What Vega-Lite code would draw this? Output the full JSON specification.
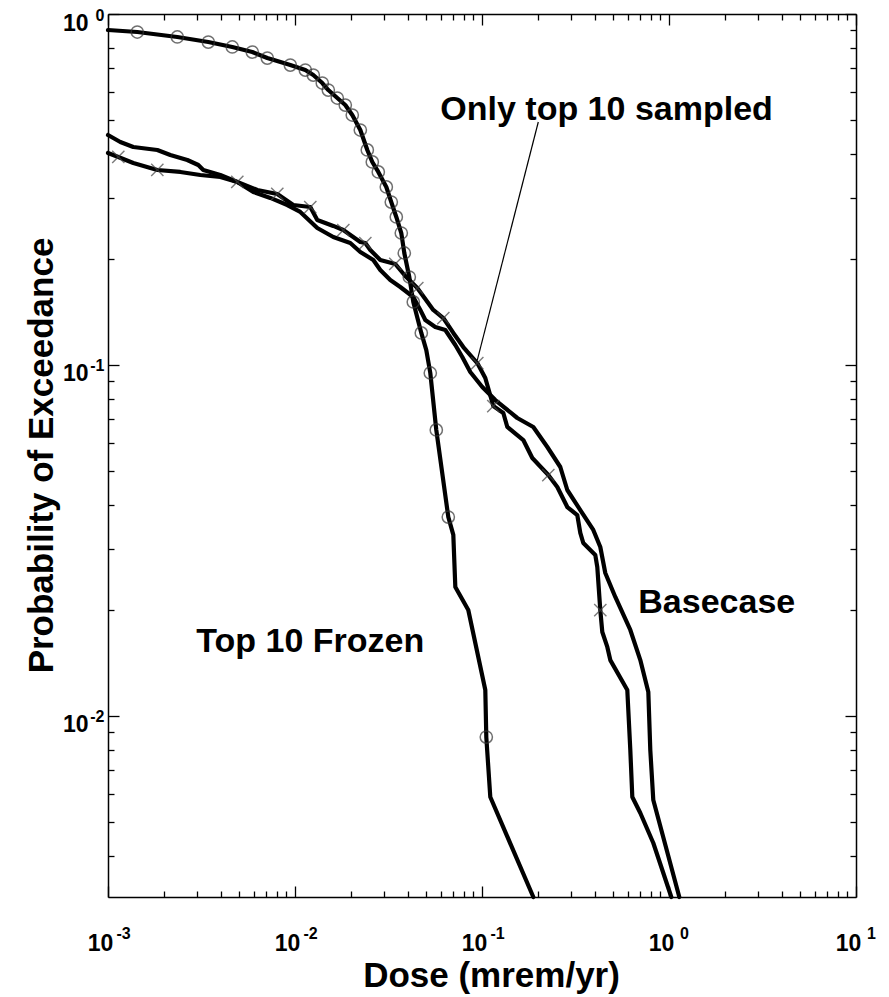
{
  "$schema": "https://vega.github.io/schema/vega-lite/v6.json",
  "width": 748,
  "height": 883,
  "autosize": {"type": "none"},
  "padding": {"left": 108, "top": 14, "right": 33, "bottom": 100},
  "background": "white",
  "config": {
    "view": {"stroke": null},
    "axis": {
      "grid": false,
      "labelFont": "Liberation Sans",
      "titleFont": "Liberation Sans",
      "labelFontWeight": "bold",
      "titleFontWeight": "bold",
      "domainColor": "black",
      "tickColor": "black",
      "labelColor": "black",
      "titleColor": "black",
      "labelFlush": false,
      "labelOverlap": false,
      "domainWidth": 1.5,
      "tickWidth": 1.3
    }
  },
  "datasets": {
    "curves": [
      {"series": "Top 10 Frozen", "x": 0.001, "y": 0.9003, "mk": false},
      {"series": "Top 10 Frozen", "x": 0.0014343, "y": 0.8886, "mk": true},
      {"series": "Top 10 Frozen", "x": 0.0023482, "y": 0.86, "mk": true},
      {"series": "Top 10 Frozen", "x": 0.0034388, "y": 0.832, "mk": true},
      {"series": "Top 10 Frozen", "x": 0.0046208, "y": 0.8054, "mk": true},
      {"series": "Top 10 Frozen", "x": 0.0059108, "y": 0.7792, "mk": true},
      {"series": "Top 10 Frozen", "x": 0.0071106, "y": 0.7492, "mk": true},
      {"series": "Top 10 Frozen", "x": 0.0094386, "y": 0.7155, "mk": true},
      {"series": "Top 10 Frozen", "x": 0.011353, "y": 0.6924, "mk": true},
      {"series": "Top 10 Frozen", "x": 0.012527, "y": 0.67, "mk": true},
      {"series": "Top 10 Frozen", "x": 0.013995, "y": 0.6359, "mk": true},
      {"series": "Top 10 Frozen", "x": 0.015071, "y": 0.6073, "mk": true},
      {"series": "Top 10 Frozen", "x": 0.016834, "y": 0.5763, "mk": true},
      {"series": "Top 10 Frozen", "x": 0.018576, "y": 0.5504, "mk": true},
      {"series": "Top 10 Frozen", "x": 0.020245, "y": 0.5155, "mk": true},
      {"series": "Top 10 Frozen", "x": 0.022352, "y": 0.4672, "mk": true},
      {"series": "Top 10 Frozen", "x": 0.02436, "y": 0.4098, "mk": true},
      {"series": "Top 10 Frozen", "x": 0.025906, "y": 0.3788, "mk": true},
      {"series": "Top 10 Frozen", "x": 0.027889, "y": 0.3548, "mk": true},
      {"series": "Top 10 Frozen", "x": 0.030781, "y": 0.3215, "mk": true},
      {"series": "Top 10 Frozen", "x": 0.03273, "y": 0.2912, "mk": true},
      {"series": "Top 10 Frozen", "x": 0.03481, "y": 0.2641, "mk": true},
      {"series": "Top 10 Frozen", "x": 0.037018, "y": 0.2377, "mk": true},
      {"series": "Top 10 Frozen", "x": 0.038411, "y": 0.2085, "mk": true},
      {"series": "Top 10 Frozen", "x": 0.040857, "y": 0.1781, "mk": true},
      {"series": "Top 10 Frozen", "x": 0.042915, "y": 0.1512, "mk": true},
      {"series": "Top 10 Frozen", "x": 0.047359, "y": 0.1234, "mk": true},
      {"series": "Top 10 Frozen", "x": 0.050365, "y": 0.1103, "mk": false},
      {"series": "Top 10 Frozen", "x": 0.052907, "y": 0.09489, "mk": true},
      {"series": "Top 10 Frozen", "x": 0.05696, "y": 0.06529, "mk": true},
      {"series": "Top 10 Frozen", "x": 0.066043, "y": 0.03688, "mk": true},
      {"series": "Top 10 Frozen", "x": 0.070245, "y": 0.0328, "mk": false},
      {"series": "Top 10 Frozen", "x": 0.071995, "y": 0.02331, "mk": false},
      {"series": "Top 10 Frozen", "x": 0.084464, "y": 0.02004, "mk": false},
      {"series": "Top 10 Frozen", "x": 0.10415, "y": 0.01186, "mk": false},
      {"series": "Top 10 Frozen", "x": 0.10544, "y": 0.008711, "mk": true},
      {"series": "Top 10 Frozen", "x": 0.11076, "y": 0.005877, "mk": false},
      {"series": "Top 10 Frozen", "x": 0.18809, "y": 0.00305, "mk": false},

      {"series": "Only top 10 sampled", "x": 0.001, "y": 0.4018, "mk": false},
      {"series": "Only top 10 sampled", "x": 0.0011352, "y": 0.3914, "mk": true},
      {"series": "Only top 10 sampled", "x": 0.0013653, "y": 0.3763, "mk": false},
      {"series": "Only top 10 sampled", "x": 0.0018354, "y": 0.3594, "mk": true},
      {"series": "Only top 10 sampled", "x": 0.0024364, "y": 0.3548, "mk": false},
      {"series": "Only top 10 sampled", "x": 0.0031158, "y": 0.3478, "mk": false},
      {"series": "Only top 10 sampled", "x": 0.0039859, "y": 0.3433, "mk": false},
      {"series": "Only top 10 sampled", "x": 0.004914, "y": 0.3322, "mk": true},
      {"series": "Only top 10 sampled", "x": 0.0062866, "y": 0.3153, "mk": false},
      {"series": "Only top 10 sampled", "x": 0.0080416, "y": 0.3071, "mk": true},
      {"series": "Only top 10 sampled", "x": 0.009793, "y": 0.2856, "mk": false},
      {"series": "Only top 10 sampled", "x": 0.012072, "y": 0.2819, "mk": true},
      {"series": "Only top 10 sampled", "x": 0.013157, "y": 0.259, "mk": false},
      {"series": "Only top 10 sampled", "x": 0.016025, "y": 0.249, "mk": false},
      {"series": "Only top 10 sampled", "x": 0.018124, "y": 0.2424, "mk": true},
      {"series": "Only top 10 sampled", "x": 0.022352, "y": 0.2241, "mk": false},
      {"series": "Only top 10 sampled", "x": 0.023768, "y": 0.2226, "mk": true},
      {"series": "Only top 10 sampled", "x": 0.025275, "y": 0.2126, "mk": false},
      {"series": "Only top 10 sampled", "x": 0.028584, "y": 0.1991, "mk": false},
      {"series": "Only top 10 sampled", "x": 0.034384, "y": 0.194, "mk": true},
      {"series": "Only top 10 sampled", "x": 0.038887, "y": 0.1793, "mk": false},
      {"series": "Only top 10 sampled", "x": 0.045083, "y": 0.1657, "mk": true},
      {"series": "Only top 10 sampled", "x": 0.054897, "y": 0.1435, "mk": false},
      {"series": "Only top 10 sampled", "x": 0.062105, "y": 0.1361, "mk": true},
      {"series": "Only top 10 sampled", "x": 0.070245, "y": 0.1234, "mk": false},
      {"series": "Only top 10 sampled", "x": 0.079433, "y": 0.1125, "mk": false},
      {"series": "Only top 10 sampled", "x": 0.094371, "y": 0.1013, "mk": true},
      {"series": "Only top 10 sampled", "x": 0.10415, "y": 0.09184, "mk": false},
      {"series": "Only top 10 sampled", "x": 0.11493, "y": 0.07641, "mk": true},
      {"series": "Only top 10 sampled", "x": 0.13002, "y": 0.07297, "mk": false},
      {"series": "Only top 10 sampled", "x": 0.13656, "y": 0.06659, "mk": false},
      {"series": "Only top 10 sampled", "x": 0.16631, "y": 0.06113, "mk": false},
      {"series": "Only top 10 sampled", "x": 0.18579, "y": 0.05431, "mk": false},
      {"series": "Only top 10 sampled", "x": 0.22629, "y": 0.04859, "mk": true},
      {"series": "Only top 10 sampled", "x": 0.25275, "y": 0.04492, "mk": false},
      {"series": "Only top 10 sampled", "x": 0.28584, "y": 0.03938, "mk": false},
      {"series": "Only top 10 sampled", "x": 0.3233, "y": 0.03737, "mk": false},
      {"series": "Only top 10 sampled", "x": 0.33546, "y": 0.03323, "mk": false},
      {"series": "Only top 10 sampled", "x": 0.3481, "y": 0.03111, "mk": false},
      {"series": "Only top 10 sampled", "x": 0.40352, "y": 0.02875, "mk": false},
      {"series": "Only top 10 sampled", "x": 0.41358, "y": 0.02657, "mk": false},
      {"series": "Only top 10 sampled", "x": 0.42915, "y": 0.02004, "mk": true},
      {"series": "Only top 10 sampled", "x": 0.43984, "y": 0.01735, "mk": false},
      {"series": "Only top 10 sampled", "x": 0.46779, "y": 0.01573, "mk": false},
      {"series": "Only top 10 sampled", "x": 0.4854, "y": 0.01443, "mk": false},
      {"series": "Only top 10 sampled", "x": 0.59841, "y": 0.01186, "mk": false},
      {"series": "Only top 10 sampled", "x": 0.62105, "y": 0.007997, "mk": false},
      {"series": "Only top 10 sampled", "x": 0.63652, "y": 0.005877, "mk": false},
      {"series": "Only top 10 sampled", "x": 0.70245, "y": 0.005292, "mk": false},
      {"series": "Only top 10 sampled", "x": 0.8242, "y": 0.004346, "mk": false},
      {"series": "Only top 10 sampled", "x": 1.0287, "y": 0.00305, "mk": false},

      {"series": "Basecase", "x": 0.001, "y": 0.4521, "mk": false},
      {"series": "Basecase", "x": 0.0011636, "y": 0.4318, "mk": false},
      {"series": "Basecase", "x": 0.0013653, "y": 0.4179, "mk": false},
      {"series": "Basecase", "x": 0.0018354, "y": 0.4098, "mk": false},
      {"series": "Basecase", "x": 0.0021539, "y": 0.3966, "mk": false},
      {"series": "Basecase", "x": 0.0026553, "y": 0.3838, "mk": false},
      {"series": "Basecase", "x": 0.0030401, "y": 0.3713, "mk": false},
      {"series": "Basecase", "x": 0.003233, "y": 0.3594, "mk": false},
      {"series": "Basecase", "x": 0.0039859, "y": 0.3478, "mk": false},
      {"series": "Basecase", "x": 0.004914, "y": 0.3322, "mk": false},
      {"series": "Basecase", "x": 0.0059841, "y": 0.3112, "mk": false},
      {"series": "Basecase", "x": 0.0073781, "y": 0.2992, "mk": false},
      {"series": "Basecase", "x": 0.0090966, "y": 0.2856, "mk": false},
      {"series": "Basecase", "x": 0.010674, "y": 0.2729, "mk": false},
      {"series": "Basecase", "x": 0.013157, "y": 0.2457, "mk": false},
      {"series": "Basecase", "x": 0.016025, "y": 0.2315, "mk": false},
      {"series": "Basecase", "x": 0.019752, "y": 0.2226, "mk": false},
      {"series": "Basecase", "x": 0.022352, "y": 0.2099, "mk": false},
      {"series": "Basecase", "x": 0.026227, "y": 0.1991, "mk": false},
      {"series": "Basecase", "x": 0.028584, "y": 0.1865, "mk": false},
      {"series": "Basecase", "x": 0.03233, "y": 0.1746, "mk": false},
      {"series": "Basecase", "x": 0.036565, "y": 0.1668, "mk": false},
      {"series": "Basecase", "x": 0.042915, "y": 0.1562, "mk": false},
      {"series": "Basecase", "x": 0.046779, "y": 0.1435, "mk": false},
      {"series": "Basecase", "x": 0.049749, "y": 0.1343, "mk": false},
      {"series": "Basecase", "x": 0.056264, "y": 0.1283, "mk": false},
      {"series": "Basecase", "x": 0.063652, "y": 0.1258, "mk": false},
      {"series": "Basecase", "x": 0.071995, "y": 0.114, "mk": false},
      {"series": "Basecase", "x": 0.078464, "y": 0.1054, "mk": false},
      {"series": "Basecase", "x": 0.086569, "y": 0.09551, "mk": false},
      {"series": "Basecase", "x": 0.10037, "y": 0.08659, "mk": false},
      {"series": "Basecase", "x": 0.11779, "y": 0.07948, "mk": false},
      {"series": "Basecase", "x": 0.15443, "y": 0.07063, "mk": false},
      {"series": "Basecase", "x": 0.18809, "y": 0.06659, "mk": false},
      {"series": "Basecase", "x": 0.22352, "y": 0.05839, "mk": false},
      {"series": "Basecase", "x": 0.26227, "y": 0.05121, "mk": false},
      {"series": "Basecase", "x": 0.28584, "y": 0.04404, "mk": false},
      {"series": "Basecase", "x": 0.33546, "y": 0.03862, "mk": false},
      {"series": "Basecase", "x": 0.39371, "y": 0.03389, "mk": false},
      {"series": "Basecase", "x": 0.42915, "y": 0.0303, "mk": false},
      {"series": "Basecase", "x": 0.45636, "y": 0.02555, "mk": false},
      {"series": "Basecase", "x": 0.51617, "y": 0.02183, "mk": false},
      {"series": "Basecase", "x": 0.62105, "y": 0.01758, "mk": false},
      {"series": "Basecase", "x": 0.70245, "y": 0.01443, "mk": false},
      {"series": "Basecase", "x": 0.77518, "y": 0.01171, "mk": false},
      {"series": "Basecase", "x": 0.79433, "y": 0.007997, "mk": false},
      {"series": "Basecase", "x": 0.8242, "y": 0.005762, "mk": false},
      {"series": "Basecase", "x": 1.1352, "y": 0.00305, "mk": false}
    ],
    "notes": [
      {"label": "Only top 10 sampled", "x": 0.059837, "y": 0.4989},
      {"label": "Basecase", "x": 0.6852, "y": 0.01965},
      {"label": "Top 10 Frozen", "x": 0.0029665, "y": 0.01522}
    ],
    "pointer": [
      {"x": 0.2, "y": 0.4924},
      {"x": 0.094371, "y": 0.1033}
    ]
  },
  "resolve": {"axis": {"x": "independent", "y": "independent"}},
  "layer": [
    {
      "data": {"name": "curves"},
      "mark": {"type": "line", "color": "black", "strokeWidth": 4.2, "strokeJoin": "round", "strokeCap": "round"},
      "encoding": {
        "x": {
          "field": "x", "type": "quantitative",
          "scale": {"type": "log", "domain": [0.001, 10], "nice": false},
          "axis": {
            "orient": "bottom", "values": [0.001, 0.01, 0.1, 1, 10],
            "labelExpr": "'10'", "labelFontSize": 23, "labelBaseline": "top",
            "labelPadding": 46, "labelOffset": -8, "tickSize": -11,
            "title": "Dose (mrem/yr)", "titleFontSize": 35,
            "titleX": 383, "titleY": 89, "titleBaseline": "alphabetic", "titleAlign": "center"
          }
        },
        "y": {
          "field": "y", "type": "quantitative",
          "scale": {"type": "log", "domain": [0.00305, 1], "nice": false},
          "axis": {
            "orient": "left", "values": [0.01, 0.1, 1],
            "labelExpr": "'10'", "labelFontSize": 23, "labelAlign": "right", "labelBaseline": "middle",
            "labelPadding": 31, "labelOffset": 9, "tickSize": -11,
            "title": "Probability of Exceedance", "titleFontSize": 35,
            "titleX": -56, "titleY": 441, "titleAngle": -90, "titleBaseline": "alphabetic", "titleAlign": "center"
          }
        },
        "detail": {"field": "series"}
      }
    },
    {
      "data": {"name": "curves"},
      "transform": [{"filter": "datum.mk && datum.series === 'Top 10 Frozen'"}],
      "mark": {"type": "point", "shape": "circle", "filled": false, "stroke": "#333333", "strokeWidth": 1.5, "size": 150},
      "encoding": {
        "x": {
          "field": "x", "type": "quantitative",
          "scale": {"type": "log", "domain": [0.001, 10], "nice": false},
          "axis": {
            "orient": "bottom", "values": [0.001, 0.01, 0.1, 1, 10],
            "labelExpr": "'' + round(log(datum.value) / LN10)", "labelFontSize": 16, "labelBaseline": "top",
            "labelPadding": 28, "labelOffset": 15, "ticks": false, "domain": false, "title": null
          }
        },
        "y": {
          "field": "y", "type": "quantitative",
          "scale": {"type": "log", "domain": [0.00305, 1], "nice": false},
          "axis": {
            "orient": "left", "values": [0.01, 0.1, 1],
            "labelExpr": "'' + round(log(datum.value) / LN10)", "labelFontSize": 16, "labelAlign": "right", "labelBaseline": "middle",
            "labelPadding": 4, "labelOffset": 1, "ticks": false, "domain": false, "title": null
          }
        }
      }
    },
    {
      "data": {"name": "curves"},
      "transform": [{"filter": "datum.mk && datum.series === 'Only top 10 sampled'"}],
      "mark": {"type": "point", "shape": "M-1,-1L1,1M-1,1L1,-1", "filled": false, "stroke": "#444444", "strokeWidth": 1.4, "size": 150},
      "encoding": {
        "x": {
          "field": "x", "type": "quantitative",
          "scale": {"type": "log", "domain": [0.001, 10], "nice": false},
          "axis": {
            "orient": "bottom",
            "values": [0.002, 0.003, 0.004, 0.005, 0.006, 0.007, 0.008, 0.009, 0.02, 0.03, 0.04, 0.05, 0.06, 0.07, 0.08, 0.09, 0.2, 0.3, 0.4, 0.5, 0.6, 0.7, 0.8, 0.9, 2, 3, 4, 5, 6, 7, 8, 9],
            "labels": false, "tickSize": -6, "domain": false, "title": null
          }
        },
        "y": {
          "field": "y", "type": "quantitative",
          "scale": {"type": "log", "domain": [0.00305, 1], "nice": false},
          "axis": {
            "orient": "left",
            "values": [0.004, 0.005, 0.006, 0.007, 0.008, 0.009, 0.02, 0.03, 0.04, 0.05, 0.06, 0.07, 0.08, 0.09, 0.2, 0.3, 0.4, 0.5, 0.6, 0.7, 0.8, 0.9],
            "labels": false, "tickSize": -6, "domain": false, "title": null
          }
        }
      }
    },
    {
      "data": {"name": "notes"},
      "mark": {"type": "text", "align": "left", "baseline": "alphabetic", "font": "Liberation Sans", "fontWeight": "bold", "fontSize": 34, "color": "black"},
      "encoding": {
        "x": {
          "field": "x", "type": "quantitative",
          "scale": {"type": "log", "domain": [0.001, 10], "nice": false},
          "axis": {
            "orient": "top", "values": [0.001, 0.01, 0.1, 1, 10],
            "labels": false, "tickSize": -11, "title": null
          }
        },
        "y": {
          "field": "y", "type": "quantitative",
          "scale": {"type": "log", "domain": [0.00305, 1], "nice": false},
          "axis": {
            "orient": "right", "values": [0.01, 0.1, 1],
            "labels": false, "tickSize": -11, "title": null
          }
        },
        "text": {"field": "label"}
      }
    },
    {
      "data": {"name": "pointer"},
      "mark": {"type": "line", "color": "black", "strokeWidth": 1.2},
      "encoding": {
        "x": {
          "field": "x", "type": "quantitative",
          "scale": {"type": "log", "domain": [0.001, 10], "nice": false},
          "axis": {
            "orient": "top",
            "values": [0.002, 0.003, 0.004, 0.005, 0.006, 0.007, 0.008, 0.009, 0.02, 0.03, 0.04, 0.05, 0.06, 0.07, 0.08, 0.09, 0.2, 0.3, 0.4, 0.5, 0.6, 0.7, 0.8, 0.9, 2, 3, 4, 5, 6, 7, 8, 9],
            "labels": false, "tickSize": -6, "domain": false, "title": null
          }
        },
        "y": {
          "field": "y", "type": "quantitative",
          "scale": {"type": "log", "domain": [0.00305, 1], "nice": false},
          "axis": {
            "orient": "right",
            "values": [0.004, 0.005, 0.006, 0.007, 0.008, 0.009, 0.02, 0.03, 0.04, 0.05, 0.06, 0.07, 0.08, 0.09, 0.2, 0.3, 0.4, 0.5, 0.6, 0.7, 0.8, 0.9],
            "labels": false, "tickSize": -6, "domain": false, "title": null
          }
        }
      }
    }
  ]
}
